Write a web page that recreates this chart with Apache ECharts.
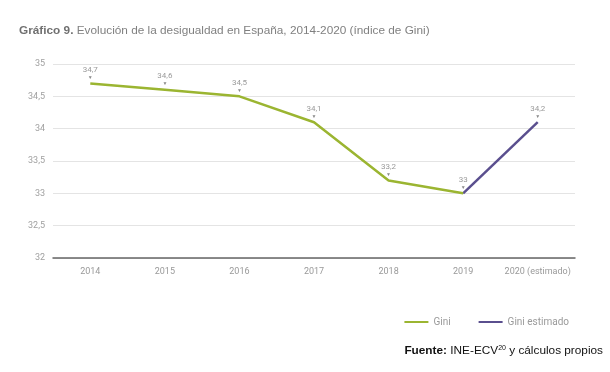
<!DOCTYPE html>
<html><head><meta charset="utf-8">
<script src="https://cdn.jsdelivr.net/npm/echarts@6/dist/echarts.min.js"></script>
<style>html,body{margin:0;padding:0;background:#fff}#c{width:610px;height:372px}</style>
</head><body><div id="c"></div>
<script>
const categories = ['2014','2015','2016','2017','2018','2019','2020 (estimado)'];
const giniValues = [34.7, 34.6, 34.5, 34.1, 33.2, 33.0, null];
const giniEstValues = [null, null, null, null, null, 33.0, 34.1];
const giniLabels = ['34,7','34,6','34,5','34,1','33,2','33',''];
const giniEstLabels = ['','','','','','','34,2'];
const yTicks = [32, 32.5, 33, 33.5, 34, 34.5, 35];

const labelFont = 'Roboto, "DejaVu Sans", sans-serif';
function mkLabel(labels){
  return {
    show: true, position: 'top', distance: 3,
    formatter: p => labels[p.dataIndex] ? '{t|' + labels[p.dataIndex] + '}\n{m|▼}' : '',
    rich: {
      t: {fontSize: 8, color: '#9a9a9a', fontFamily: labelFont, lineHeight: 9, align:'center'},
      m: {fontSize: 5, color: '#8a8a8a', lineHeight: 6, align:'center'}
    }
  };
}
const chart = echarts.init(document.getElementById('c'));
chart.setOption({
  animation: false,
  grid: {left: 53, right: 35, top: 64, bottom: 114},
  graphic: [
    {type: 'text', left: 19, top: 25, style: {
      text: '{b|Gráfico 9.} {n|Evolución de la desigualdad en España, 2014-2020 (índice de Gini)}',
      rich: {
        b: {fontSize: 11.8, fontWeight: 'bold', fill: '#707070', fontFamily: '"Liberation Sans", Arial, sans-serif'},
        n: {fontSize: 11.8, fill: '#808080', fontFamily: '"Liberation Sans", Arial, sans-serif'}
      }
    }},
    {type: 'text', right: 7, top: 345, style: {
      text: '{b|Fuente:} {n|INE-ECV}{s|20}{n| y cálculos propios}',
      rich: {
        b: {fontSize: 11.8, fontWeight: 'bold', fill: '#111', fontFamily: '"Liberation Sans", Arial, sans-serif', verticalAlign:'bottom'},
        n: {fontSize: 11.8, fill: '#111', fontFamily: '"Liberation Sans", Arial, sans-serif', verticalAlign:'bottom'},
        s: {fontSize: 7, fill: '#111', fontFamily: '"Liberation Sans", Arial, sans-serif', verticalAlign:'top', padding:[0,0,5,0]}
      }
    }}
  ],
  legend: {
    right: 36, top: 312, itemGap: 28, itemWidth: 24, itemHeight: 2, icon: 'rect',
    textStyle: {color: '#9a9a9a', fontSize: 10, fontFamily: labelFont},
    data: ['Gini', 'Gini estimado']
  },
  xAxis: {
    type: 'category', data: categories, boundaryGap: true,
    axisLine: {lineStyle: {color: '#666', width: 1.5}},
    axisTick: {show: false},
    axisLabel: {color: '#999', fontSize: 9, fontFamily: labelFont, margin: 9, interval: 0}
  },
  yAxis: {
    type: 'value', min: 32, max: 35, interval: 0.5,
    axisLine: {show: false}, axisTick: {show: false},
    splitLine: {lineStyle: {color: '#e4e4e4', width: 1}},
    axisLabel: {color: '#a0a0a0', fontSize: 9, fontFamily: labelFont, margin: 8,
      formatter: v => (yTicks.includes(v) ? String(v).replace('.', ',') : '')}
  },
  series: [
    {name: 'Gini', type: 'line', data: giniValues, color: '#9bb531',
      lineStyle: {width: 2.5, color: '#9bb531'}, symbol: 'circle', symbolSize: 0,
      itemStyle: {color: '#9bb531'}, label: mkLabel(giniLabels), z: 3},
    {name: 'Gini estimado', type: 'line', data: giniEstValues, color: '#5a4f8e',
      lineStyle: {width: 2.5, color: '#5a4f8e'}, symbol: 'circle', symbolSize: 0,
      itemStyle: {color: '#5a4f8e'}, label: mkLabel(giniEstLabels), z: 2}
  ]
});
</script></body></html>
